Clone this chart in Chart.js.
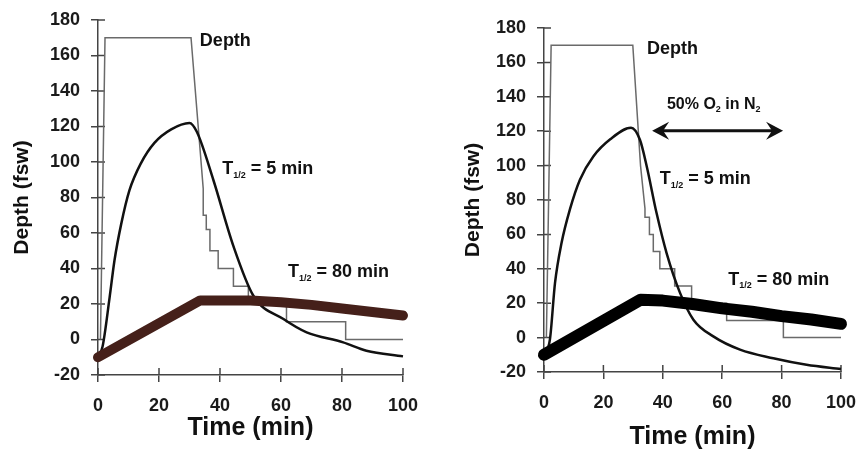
<!DOCTYPE html>
<html>
<head>
<meta charset="utf-8">
<script src="https://cdn.jsdelivr.net/npm/chart.js@4.4.0/dist/chart.umd.min.js"></script>
<style>
body { margin: 0; background: #fff; width: 860px; height: 459px; overflow: hidden; position: relative; }
.box { position: absolute; top: 0; width: 430px; height: 459px; }
</style>
</head>
<body>
<div class="box" style="left:0"><canvas id="left" width="430" height="459"></canvas></div>
<div class="box" style="left:430px"><canvas id="right" width="430" height="459"></canvas></div>
<script>
// axis ranges
let xMin = 0, xMax = 100, xStep = 20
let yMin = -20, yMax = 180, yStep = 20

// left panel (air)
let leftDepthT = [0.8, 2.3, 30.5, 34.5, 34.5, 35.5, 35.5, 36.7, 36.7, 39.4, 39.4, 44.4, 44.4, 49.3, 49.3, 61.8, 61.8, 81.2, 81.2, 100]
let leftDepthV = [0, 170, 170, 85, 70, 70, 62, 62, 50, 50, 40, 40, 30, 30, 20, 20, 10, 10, 0, 0]
let leftFastT = [0, 1.5, 3.8, 5.4, 7.6, 10.3, 14.1, 18.5, 24, 30, 32.4, 37.8, 44.4, 51, 60.8, 68.4, 80.4, 88, 100]
let leftFastV = [-10, -4, 23.6, 44.5, 65, 84, 99.4, 110.8, 118.4, 122, 117, 90, 52.6, 24.5, 11.5, 4, -1.6, -6.3, -9.5]
let leftSlowT = [0, 33.5, 50, 60, 70, 80, 90, 100]
let leftSlowV = [-10, 22, 22, 21, 19.5, 17.5, 15.5, 13.5]

// right panel (50% O2 in N2 on ascent)
let rightDepthT = [0.8, 2.4, 29.9, 32.5, 34, 34, 35.5, 35.5, 36.8, 36.8, 39, 39, 44, 44, 49.7, 49.7, 61.5, 61.5, 80.6, 80.6, 100]
let rightDepthV = [0, 170, 170, 100, 75, 70, 70, 60, 60, 50, 50, 40, 40, 30, 30, 20, 20, 10, 10, 0, 0]
let rightFastT = [0, 2, 3.7, 5.9, 8.7, 12.1, 16.6, 22.3, 29.3, 32.3, 34.6, 37.9, 41.3, 45.8, 50.3, 57, 66, 77.2, 88.4, 100]
let rightFastV = [-10, -1, 31.7, 55, 74.4, 91.8, 105.3, 115.3, 122, 115, 99.5, 72.4, 49, 26, 10.4, 0.7, -7, -12, -15.8, -18.3]
let rightSlowT = [0, 32.5, 40, 50, 60, 70, 80, 90, 100]
let rightSlowV = [-10, 22, 21.5, 19.5, 17, 15, 12.5, 10.5, 8]

// annotation texts, positioned in data units
let leftNotes = [
    { t: 33.4, v: 168, parts: [['Depth', 18]] },
    { t: 40.7, v: 96, parts: [['T', 18], ['1/2', 9, 6], [' = 5 min', 18]] },
    { t: 62.3, v: 38, parts: [['T', 18], ['1/2', 9, 6], [' = 80 min', 18]] }
]
let rightNotes = [
    { t: 34.7, v: 168, parts: [['Depth', 18]] },
    { t: 41.4, v: 135.5, parts: [['50% O', 16], ['2', 9, 5], [' in N', 16], ['2', 9, 5]] },
    { t: 39, v: 92, parts: [['T', 18], ['1/2', 9, 6], [' = 5 min', 18]] },
    { t: 62, v: 33.7, parts: [['T', 18], ['1/2', 9, 6], [' = 80 min', 18]] }
]
let rightArrow = { t1: 36.4, t2: 80.5, v: 120.3 }

Chart.defaults.font.family = '"Liberation Sans", Arial, sans-serif'
Chart.defaults.color = '#1a1a1a'

function pts(ts, vs) {
    return ts.map((t, i) => ({ x: t, y: vs[i] }))
}

function drawRich(ctx, x, y, parts) {
    let cx = x
    parts.forEach(p => {
        ctx.font = 'bold ' + p[1] + 'px "Liberation Sans", Arial'
        ctx.fillText(p[0], cx, y + (p[2] || 0))
        cx += ctx.measureText(p[0]).width
    })
}

// ticks in the reference cross the axis line, chart.js only draws the outer half
let innerTicks = {
    id: 'innerTicks',
    beforeDatasetsDraw(chart) {
        let ctx = chart.ctx
        let xs = chart.scales.x, ys = chart.scales.y
        let a = chart.chartArea
        ctx.save()
        ctx.strokeStyle = '#444'
        ctx.lineWidth = 1.5
        ctx.beginPath()
        xs.ticks.forEach(tk => {
            let px = xs.getPixelForValue(tk.value)
            ctx.moveTo(px, a.bottom)
            ctx.lineTo(px, a.bottom - 7)
        })
        ys.ticks.forEach(tk => {
            let py = ys.getPixelForValue(tk.value)
            ctx.moveTo(a.left, py)
            ctx.lineTo(a.left + 7, py)
        })
        ctx.stroke()
        ctx.restore()
    }
}

let notesPlugin = {
    id: 'notes',
    afterDraw(chart, args, opts) {
        let ctx = chart.ctx
        let xs = chart.scales.x, ys = chart.scales.y
        ctx.save()
        ctx.fillStyle = '#111'
        ctx.textBaseline = 'middle'
        ctx.textAlign = 'left'
        ;(opts.notes || []).forEach(n => {
            drawRich(ctx, xs.getPixelForValue(n.t), ys.getPixelForValue(n.v), n.parts)
        })
        let ar = opts.arrow
        if (ar) {
            let x1 = xs.getPixelForValue(ar.t1), x2 = xs.getPixelForValue(ar.t2)
            let y = ys.getPixelForValue(ar.v)
            ctx.strokeStyle = '#111'
            ctx.lineWidth = 3
            ctx.beginPath()
            ctx.moveTo(x1 + 6, y)
            ctx.lineTo(x2 - 6, y)
            ctx.stroke()
            ;[[x1, 1], [x2, -1]].forEach(([x, d]) => {
                ctx.beginPath()
                ctx.moveTo(x, y)
                ctx.lineTo(x + d * 17, y - 9)
                ctx.lineTo(x + d * 11, y)
                ctx.lineTo(x + d * 17, y + 9)
                ctx.closePath()
                ctx.fill()
            })
        }
        ctx.restore()
    }
}

function makeChart(id, area, fast, slow, depth, slowColor, slowWidth, notes, arrow) {
    return new Chart(id, {
        type: 'line',
        data: {
            datasets: [{
                data: slow,
                borderColor: slowColor,
                borderWidth: slowWidth,
                borderCapStyle: 'round',
                borderJoinStyle: 'round',
                pointRadius: 0,
                tension: 0,
                clip: 12
            }, {
                data: fast,
                borderColor: '#111',
                borderWidth: 2.5,
                pointRadius: 0,
                cubicInterpolationMode: 'monotone',
                clip: 8
            }, {
                data: depth,
                borderColor: '#6a6a6a',
                borderWidth: 1.5,
                pointRadius: 0,
                tension: 0,
                clip: 8
            }]
        },
        options: {
            responsive: false,
            animation: false,
            events: [],
            layout: { padding: { top: area.top, right: area.right, left: 0, bottom: 0 } },
            plugins: {
                legend: { display: false },
                tooltip: { enabled: false },
                notes: { notes: notes, arrow: arrow }
            },
            scales: {
                x: {
                    type: 'linear',
                    min: xMin, max: xMax,
                    ticks: { stepSize: xStep, padding: 13, font: { size: 18, weight: 'bold' }, color: '#1a1a1a' },
                    grid: { drawOnChartArea: false, tickLength: 7, color: '#444', lineWidth: 1.5 },
                    border: { color: '#444', width: 1.5 },
                    title: { display: true, text: 'Time (min)', font: { size: 25, weight: 'bold' }, color: '#111', padding: { top: 0, bottom: area.xTitlePad } },
                    afterFit: s => {
                        s.height = area.xHeight
                        s.paddingLeft = 0
                        s.paddingRight = 0
                    }
                },
                y: {
                    min: yMin, max: yMax,
                    ticks: { stepSize: yStep, padding: 11, font: { size: 18, weight: 'bold' }, color: '#1a1a1a' },
                    grid: { drawOnChartArea: false, tickLength: 7, color: '#444', lineWidth: 1.5 },
                    border: { color: '#444', width: 1.5 },
                    title: { display: true, text: 'Depth (fsw)', font: { size: 21, weight: 'bold' }, color: '#111', padding: { top: area.yTitlePad, bottom: 0 } },
                    afterFit: s => {
                        s.width = area.yWidth
                        s.paddingTop = 0
                        s.paddingBottom = 0
                    }
                }
            }
        },
        plugins: [innerTicks, notesPlugin]
    })
}

makeChart('left',
    { top: 20, right: 27, xHeight: 84, yWidth: 98, xTitlePad: 16, yTitlePad: 10 },
    pts(leftFastT, leftFastV), pts(leftSlowT, leftSlowV), pts(leftDepthT, leftDepthV),
    '#45201a', 10, leftNotes, null)

makeChart('right',
    { top: 28, right: 19, xHeight: 87, yWidth: 114, xTitlePad: 7, yTitlePad: 31 },
    pts(rightFastT, rightFastV), pts(rightSlowT, rightSlowV), pts(rightDepthT, rightDepthV),
    '#000', 12, rightNotes, rightArrow)
</script>
</body>
</html>
